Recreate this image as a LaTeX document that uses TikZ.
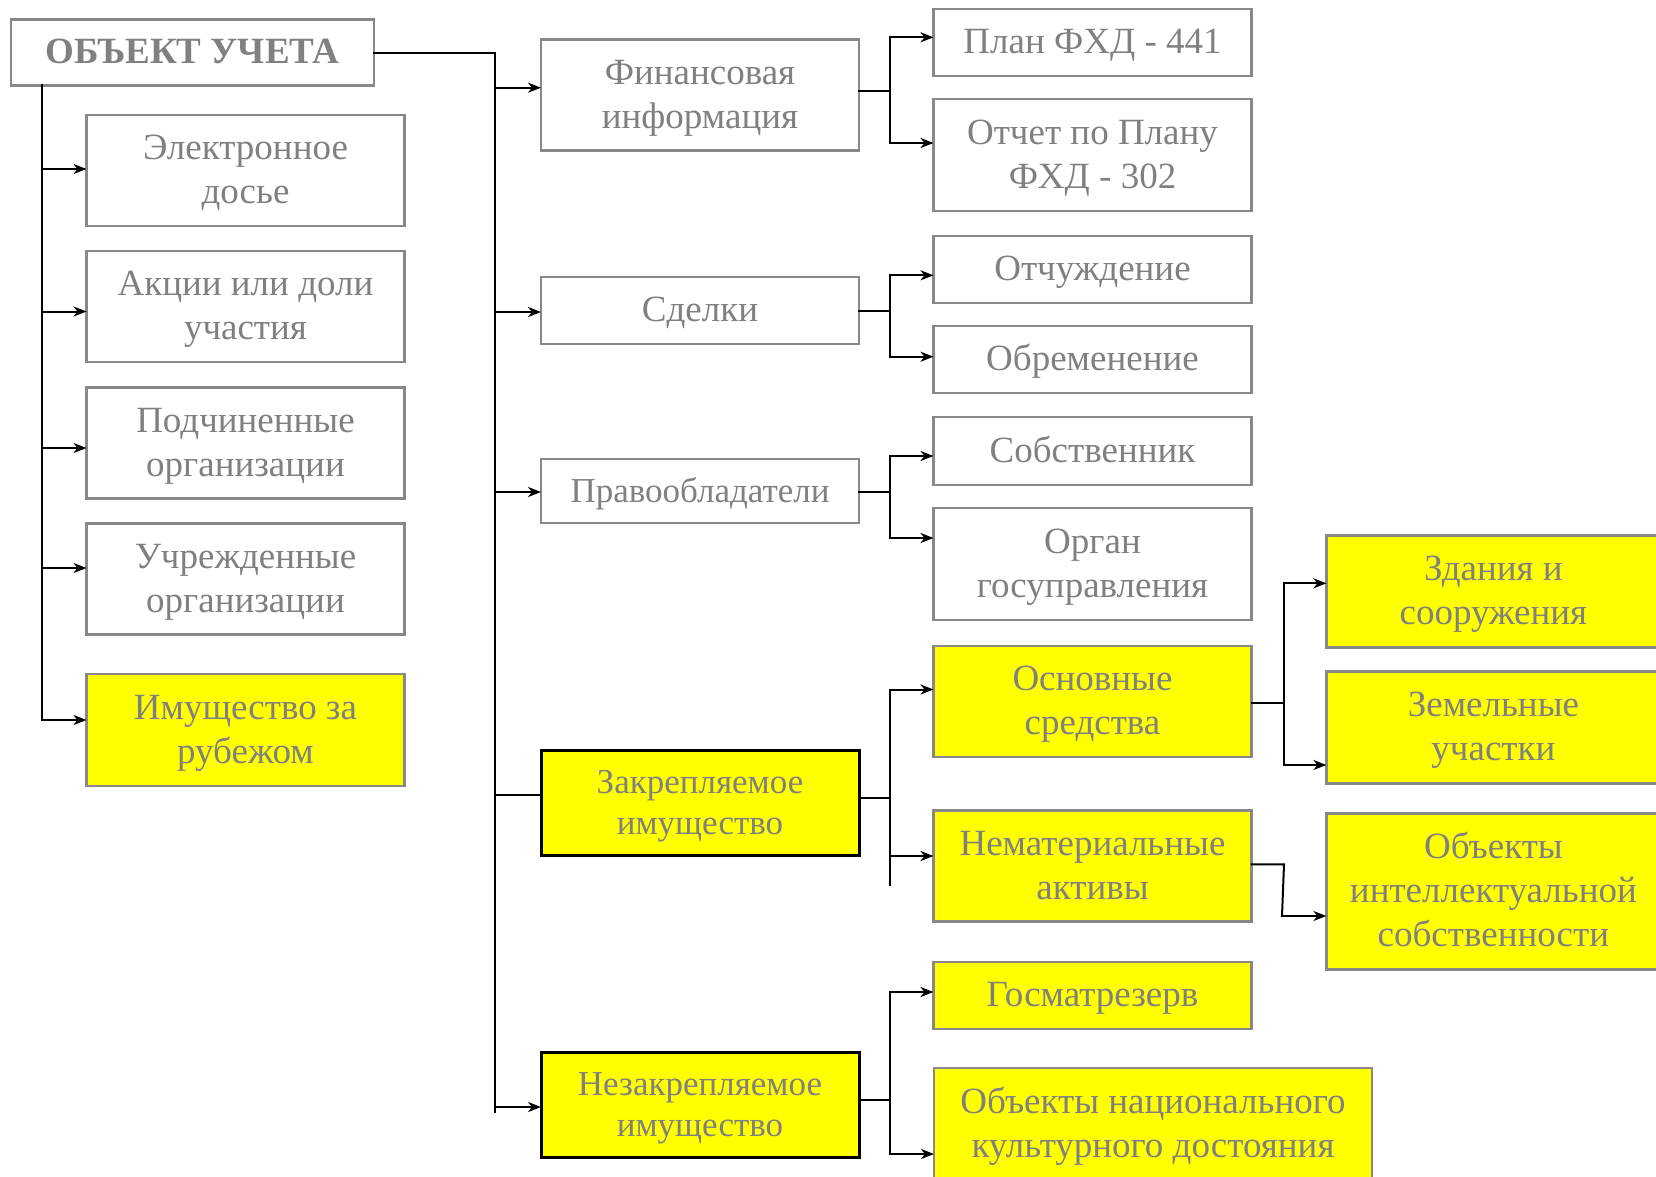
\documentclass[tikz,border=0pt]{standalone}
\usepackage{fontspec}
\setmainfont{Liberation Serif}
\usetikzlibrary{arrows.meta,calc}
\definecolor{bgray}{RGB}{136,136,136}
\definecolor{tgray}{RGB}{128,128,128}
\definecolor{ylw}{RGB}{255,255,0}
\newcommand{\tst}{\rule[-9pt]{0pt}{40pt}}
\begin{document}
\begin{tikzpicture}[x=1pt,y=-1pt,
  bx/.style={draw=bgray,line width=2.5pt,text=tgray,align=center,font=\fontsize{37}{44}\selectfont,minimum width=318pt,inner sep=0pt,outer sep=0pt},
  ybx/.style={bx,fill=ylw},
  kbx/.style={bx,fill=ylw,draw=black,line width=3pt,font=\fontsize{35}{41}\selectfont},
  conn/.style={draw=black,line width=2pt,line cap=rect},
  arr/.style={draw=black,line width=2pt,-{Stealth[length=13pt,width=10pt,inset=4pt]}},
]
\useasboundingbox (0,0) rectangle (1656,1176);
\clip (0,0) rectangle (1656,1176);
\fill[white] (0,0) rectangle (1656,1176);

% root
\node[bx,font=\bfseries\fontsize{37}{40}\selectfont,minimum width=363pt,minimum height=66pt] (root) at (192.3,52.3) {\tst ОБЪЕКТ УЧЕТА};

% left column
\node[bx,minimum height=111pt] (e1) at (245.5,170.5) {\tst Электронное\\досье\tst};
\node[bx,minimum height=111pt] (e2) at (245.5,306.5) {\tst Акции или доли\\участия\tst};
\node[bx,minimum height=111pt] (e3) at (245.5,443) {\tst Подчиненные\\организации\tst};
\node[bx,minimum height=111pt] (e4) at (245.5,579) {\tst Учрежденные\\организации\tst};
\node[ybx,minimum height=112pt] (e5) at (245.5,730) {\tst Имущество за\\рубежом\tst};

% middle column
\node[bx,minimum height=111pt] (m1) at (700,95) {\tst Финансовая\\информация\tst};
\node[bx,minimum height=67pt] (m2) at (700,310.5) {\tst Сделки};
\node[bx,minimum height=64pt,font=\fontsize{35}{41}\selectfont] (m3) at (700,491) {\tst Правообладатели};
\node[kbx,minimum height=105pt] (m4) at (700,803) {\tst Закрепляемое\\имущество\tst};
\node[kbx,minimum height=105pt] (m5) at (700,1105) {\tst Незакрепляемое\\имущество\tst};

% right column
\node[bx,minimum height=67pt] (r1) at (1092.5,42.5) {\tst План ФХД - 441};
\node[bx,minimum height=112pt] (r2) at (1092.5,155) {\tst Отчет по Плану\\ФХД - 302\tst};
\node[bx,minimum height=67pt] (r3) at (1092.5,269.3) {\tst Отчуждение};
\node[bx,minimum height=67pt] (r4) at (1092.5,359.5) {\tst Обременение};
\node[bx,minimum height=68pt] (r5) at (1092.5,451) {\tst Собственник};
\node[bx,minimum height=112pt] (r6) at (1092.5,564) {\tst Орган\\госуправления\tst};
\node[ybx,minimum height=111pt] (r7) at (1092.5,701.5) {\tst Основные\\средства\tst};
\node[ybx,minimum height=111pt] (r8) at (1092.5,866) {\tst Нематериальные\\активы\tst};
\node[ybx,minimum height=67pt] (r9) at (1092.5,995.5) {\tst Госматрезерв};
\node[ybx,minimum width=438pt,minimum height=112pt] (r10) at (1153,1124) {\tst Объекты национального\\культурного достояния\tst};

% far right column
\node[ybx,minimum width=334pt,minimum height=112pt] (f1) at (1493.4,591.7) {\tst Здания и\\сооружения\tst};
\node[ybx,minimum width=334pt,minimum height=112pt] (f2) at (1493.4,727.5) {\tst Земельные\\участки\tst};
\node[ybx,minimum width=334pt,minimum height=156pt] (f3) at (1493.4,891.4) {\tst Объекты\\интеллектуальной\\собственности\tst};

% trunk coordinates
\coordinate (LT) at (42,0);
\coordinate (MT) at (495,0);
\coordinate (MTend) at (495,1111.5);
\coordinate (B1) at (890,0);
\coordinate (B2) at (1284,0);
\coordinate (B2s) at (1282,0);
\coordinate (B1end) at (890,885);

% arrow targets
\foreach \n/\s in {e1/1.5,e2/-5,e3/-5,e4/11,e5/10,m1/7.3,m2/-1.5,m3/-1,m4/8,m5/-2,
  r1/5.2,r2/12,r3/-6,r4/2.8,r5/-5,r6/26,r7/12,r8/10,r9/3.5,r10/-30,f1/8.4,f2/-37.5,f3/-24.6}
  {\coordinate (\n-a) at ([yshift=\s pt]\n.west);}
% outgoing points
\foreach \n/\s in {m1/4.3,m2/-0.5,m3/-1,m4/5.3,m5/5,r7/-1.2,r8/1.7}
  {\coordinate (\n-o) at ([yshift=\s pt]\n.east);}

% left trunk
\draw[conn] (root.south -| LT) -- (LT |- e5-a);
\foreach \n in {e1,e2,e3,e4,e5}
  {\draw[arr] (LT |- \n-a) -- (\n-a);}

% root to middle trunk
\draw[conn] ([yshift=-1pt]root.east) -| (MTend);
\foreach \n in {m1,m2,m3,m5}
  {\draw[arr] (MT |- \n-a) -- (\n-a);}
\draw[conn] (MT |- m4-a) -- (m4-a);

% middle to right branches
\draw[conn] (m1-o) -- (B1 |- m1-o);
\draw[conn] (B1 |- r1-a) -- (B1 |- r2-a);
\draw[arr] (B1 |- r1-a) -- (r1-a);
\draw[arr] (B1 |- r2-a) -- (r2-a);

\draw[conn] (m2-o) -- (B1 |- m2-o);
\draw[conn] (B1 |- r3-a) -- (B1 |- r4-a);
\draw[arr] (B1 |- r3-a) -- (r3-a);
\draw[arr] (B1 |- r4-a) -- (r4-a);

\draw[conn] (m3-o) -- (B1 |- m3-o);
\draw[conn] (B1 |- r5-a) -- (B1 |- r6-a);
\draw[arr] (B1 |- r5-a) -- (r5-a);
\draw[arr] (B1 |- r6-a) -- (r6-a);

\draw[conn] (m4-o) -- (B1 |- m4-o);
\draw[conn] (B1 |- r7-a) -- (B1end);
\draw[arr] (B1 |- r7-a) -- (r7-a);
\draw[arr] (B1 |- r8-a) -- (r8-a);

\draw[conn] (m5-o) -- (B1 |- m5-o);
\draw[conn] (B1 |- r9-a) -- (B1 |- r10-a);
\draw[arr] (B1 |- r9-a) -- (r9-a);
\draw[arr] (B1 |- r10-a) -- (r10-a);

% right to far right
\draw[conn] (r7-o) -- (B2 |- r7-o);
\draw[conn] (B2 |- f1-a) -- (B2 |- f2-a);
\draw[arr] (B2 |- f1-a) -- (f1-a);
\draw[arr] (B2 |- f2-a) -- (f2-a);

\draw[conn] (r8-o) -- (B2 |- r8-o) -- (B2s |- f3-a);
\draw[arr] (B2s |- f3-a) -- (f3-a);
\end{tikzpicture}
\end{document}
